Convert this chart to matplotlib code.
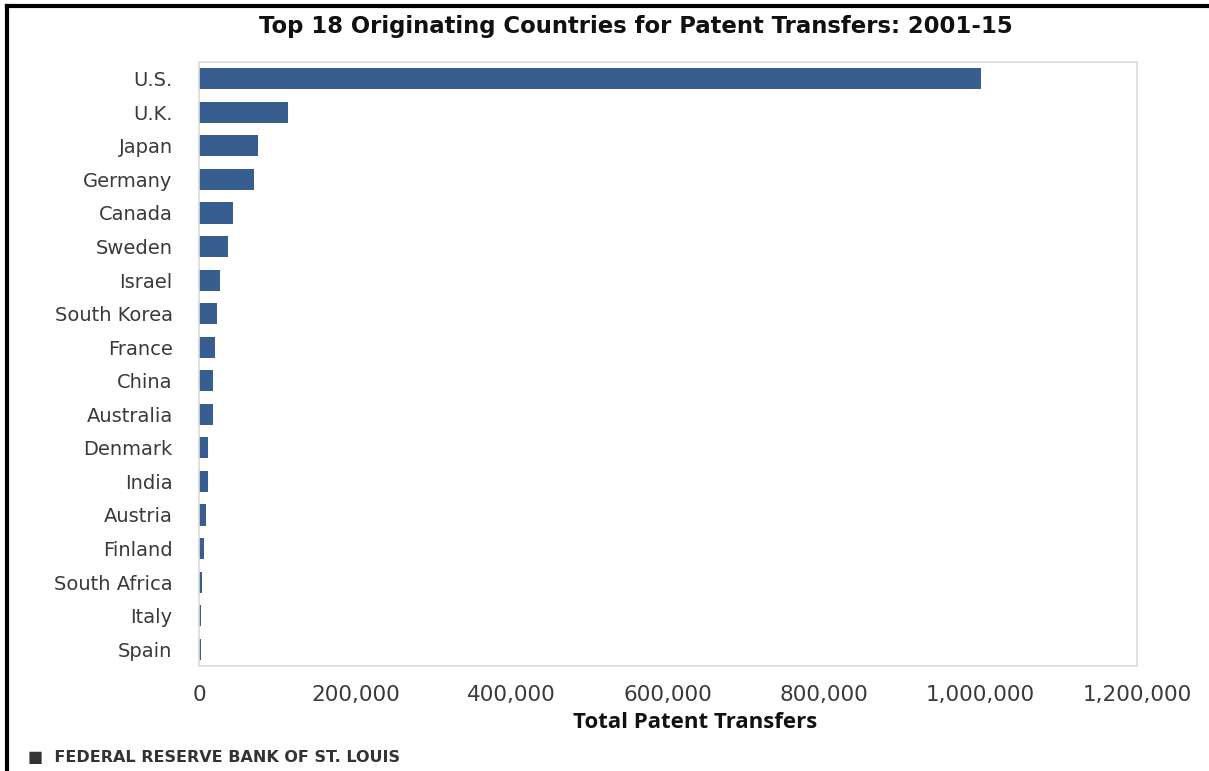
import matplotlib.pyplot as plt
from matplotlib.lines import Line2D
from matplotlib.ticker import FuncFormatter

countries = ["U.S.", "U.K.", "Japan", "Germany", "Canada", "Sweden", "Israel",
             "South Korea", "France", "China", "Australia", "Denmark", "India",
             "Austria", "Finland", "South Africa", "Italy", "Spain"]
transfers = [1000000, 114000, 76000, 70500, 44000, 37000, 27000, 23000, 20500,
             18000, 18000, 11500, 11500, 9500, 6000, 4300, 3000, 2500]
x_ticks = [0, 200000, 400000, 600000, 800000, 1000000, 1200000]

bar_color = "#375E8F"
text_color = "#3a3a3a"

fig = plt.figure(figsize=(12.09, 7.71), dpi=100)
ax = fig.add_axes([199 / 1209, 1 - 666 / 771, (1137 - 199) / 1209, (666 - 62) / 771])

y = list(range(len(countries)))
ax.barh(y, transfers, height=0.63, color=bar_color)
ax.set_ylim(len(countries) - 0.5, -0.5)
ax.set_xlim(0, 1200000)
ax.set_yticks(y)
ax.set_yticklabels(countries, fontsize=14, family="DejaVu Sans", color=text_color)
ax.set_xticks(x_ticks)
ax.xaxis.set_major_formatter(FuncFormatter(lambda v, p: f"{int(v):,}"))
for lbl in ax.get_xticklabels():
    lbl.set_fontsize(15.5)
    lbl.set_family("DejaVu Sans")
    lbl.set_color(text_color)
ax.tick_params(axis="y", length=0, pad=19)
ax.tick_params(axis="x", length=0, pad=14)
for s in ax.spines.values():
    s.set_color("#dcdcdc")
    s.set_linewidth(1.2)

fig.text(695 / 1209, 1 - 722 / 771, "Total Patent Transfers", ha="center", va="center",
         fontsize=16, fontweight="bold", family="Open Sans", color="#111111")

fig.text(636 / 1209, 1 - 27 / 771, "Top 18 Originating Countries for Patent Transfers: 2001-15",
         ha="center", va="center", fontsize=16.4, fontweight="bold", family="DejaVu Sans",
         color="#111111")
fig.text(28 / 1209, 1 - 758 / 771, "\u25A0  FEDERAL RESERVE BANK OF ST. LOUIS",
         ha="left", va="center", fontsize=11.5, fontweight="bold",
         family=["DejaVu Sans"], color="#333333")

# outer frame (top and left edges)
fig.add_artist(Line2D([7 / 1209, 1], [1 - 6 / 771, 1 - 6 / 771], color="black", lw=3,
                      transform=fig.transFigure))
fig.add_artist(Line2D([7 / 1209, 7 / 1209], [0, 1 - 6 / 771], color="black", lw=3,
                      transform=fig.transFigure))

fig.savefig("out.png", dpi=100)
